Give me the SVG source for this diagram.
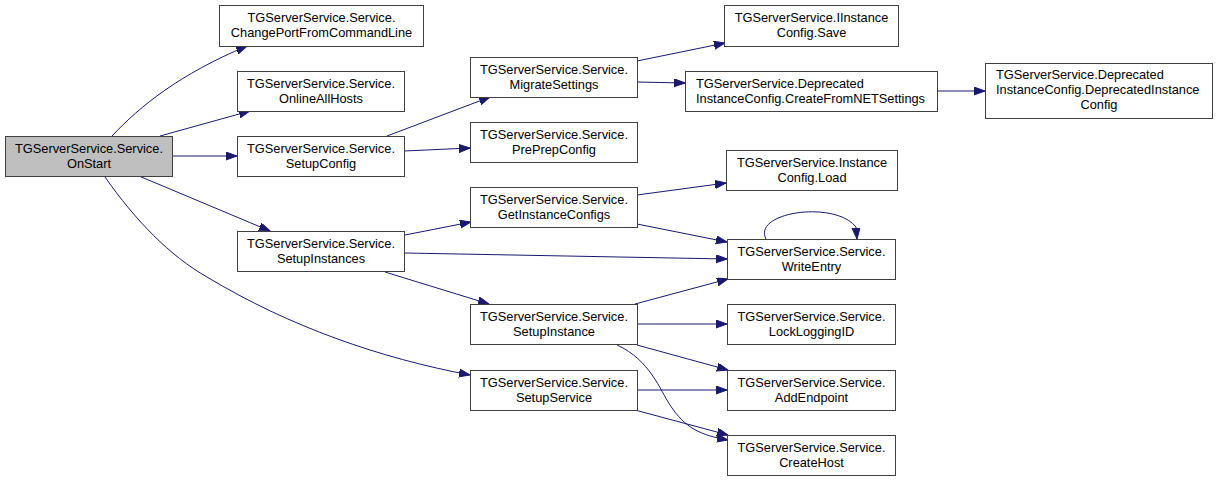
<svg xmlns="http://www.w3.org/2000/svg" width="1217" height="481" viewBox="0 0 1217 481">
<style>
.n rect{fill:#ffffff;stroke:#404040;stroke-width:1}
.n text{font-family:"Liberation Sans",Arial,sans-serif;font-size:12.8px;fill:#000000;text-anchor:middle}
.n text.l{text-anchor:start}
#n_onstart rect{fill:#bfbfbf}
#edges path{fill:none;stroke:#191970;stroke-width:1;marker-end:url(#arr)}
</style>
<defs>
<marker id="arr" markerUnits="userSpaceOnUse" markerWidth="12" markerHeight="9" refX="11" refY="4" orient="auto">
<path d="M0,0 L11,4 L0,8 z" fill="#191970" stroke="#191970" stroke-width="1"/>
</marker>
</defs>
<rect width="1217" height="481" fill="#ffffff"/>
<g id="edges">
<path d="M112,136 C140,106 180,74 247,46"/>
<path d="M160,136 L250,111"/>
<path d="M172,156 L237,156"/>
<path d="M139,176 L270,231"/>
<path d="M105,177 C135,220 170,256 207,277 C290,327 380,358 470,375"/>
<path d="M387,136 L490,97"/>
<path d="M404,151 L470,148"/>
<path d="M637,61 L725,43"/>
<path d="M637,82 L685,83"/>
<path d="M937,91 L985,91"/>
<path d="M405,235 L471,222"/>
<path d="M405,253 L727,259"/>
<path d="M385,272 L489,304"/>
<path d="M637,195 L726,183"/>
<path d="M637,224 L727,242"/>
<path d="M766,239 C752,212 835,200 856,227 L857,239"/>
<path d="M635,304 L728,279"/>
<path d="M637,324 L727,324"/>
<path d="M637,345 L728,370"/>
<path d="M617,345 C650,360 660,390 670,405 C685,428 700,435 728,440"/>
<path d="M637,390 L727,390"/>
<path d="M635,410 L728,435"/>
</g>
<g id="n_onstart" class="n"><rect x="5.5" y="136.5" width="167" height="40"/><text x="89" y="153">TGServerService.Service.</text><text x="89" y="168">OnStart</text></g>
<g id="n_changeport" class="n"><rect x="219.5" y="5.5" width="204" height="41"/><text x="321.5" y="22">TGServerService.Service.</text><text x="321.5" y="37">ChangePortFromCommandLine</text></g>
<g id="n_onlineallhosts" class="n"><rect x="237.5" y="71.5" width="167" height="40"/><text x="321" y="88">TGServerService.Service.</text><text x="321" y="103">OnlineAllHosts</text></g>
<g id="n_setupconfig" class="n"><rect x="237.5" y="136.5" width="167" height="40"/><text x="321" y="153">TGServerService.Service.</text><text x="321" y="168">SetupConfig</text></g>
<g id="n_setupinstances" class="n"><rect x="237.5" y="231.5" width="167" height="40"/><text x="321" y="248">TGServerService.Service.</text><text x="321" y="263">SetupInstances</text></g>
<g id="n_migratesettings" class="n"><rect x="470.5" y="57.5" width="167" height="40"/><text x="554" y="74">TGServerService.Service.</text><text x="554" y="89">MigrateSettings</text></g>
<g id="n_prepprepconfig" class="n"><rect x="470.5" y="122.5" width="167" height="40"/><text x="554" y="139">TGServerService.Service.</text><text x="554" y="154">PrePrepConfig</text></g>
<g id="n_getinstanceconfigs" class="n"><rect x="470.5" y="187.5" width="167" height="40"/><text x="554" y="204">TGServerService.Service.</text><text x="554" y="219">GetInstanceConfigs</text></g>
<g id="n_setupinstance" class="n"><rect x="470.5" y="304.5" width="167" height="40"/><text x="554" y="321">TGServerService.Service.</text><text x="554" y="336">SetupInstance</text></g>
<g id="n_setupservice" class="n"><rect x="470.5" y="370.5" width="167" height="40"/><text x="554" y="387">TGServerService.Service.</text><text x="554" y="402">SetupService</text></g>
<g id="n_save" class="n"><rect x="724.5" y="5.5" width="174" height="41"/><text x="811.5" y="22">TGServerService.IInstance</text><text x="811.5" y="37">Config.Save</text></g>
<g id="n_createfromnet" class="n"><rect x="685.5" y="71.5" width="252" height="40"/><text class="l" x="696" y="88">TGServerService.Deprecated</text><text class="l" x="696" y="103">InstanceConfig.CreateFromNETSettings</text></g>
<g id="n_deprecatedinstanceconfig" class="n"><rect x="985.5" y="63.5" width="227" height="55"/><text class="l" x="996" y="79">TGServerService.Deprecated</text><text class="l" x="996" y="94">InstanceConfig.DeprecatedInstance</text><text x="1099" y="109">Config</text></g>
<g id="n_load" class="n"><rect x="726.5" y="150.5" width="171" height="40"/><text x="812" y="167">TGServerService.Instance</text><text x="812" y="182">Config.Load</text></g>
<g id="n_writeentry" class="n"><rect x="727.5" y="239.5" width="168" height="40"/><text x="811.5" y="256">TGServerService.Service.</text><text x="811.5" y="271">WriteEntry</text></g>
<g id="n_lockloggingid" class="n"><rect x="727.5" y="304.5" width="168" height="40"/><text x="811.5" y="321">TGServerService.Service.</text><text x="811.5" y="336">LockLoggingID</text></g>
<g id="n_addendpoint" class="n"><rect x="727.5" y="370.5" width="168" height="40"/><text x="811.5" y="387">TGServerService.Service.</text><text x="811.5" y="402">AddEndpoint</text></g>
<g id="n_createhost" class="n"><rect x="727.5" y="435.5" width="168" height="40"/><text x="811.5" y="452">TGServerService.Service.</text><text x="811.5" y="467">CreateHost</text></g>
</svg>
